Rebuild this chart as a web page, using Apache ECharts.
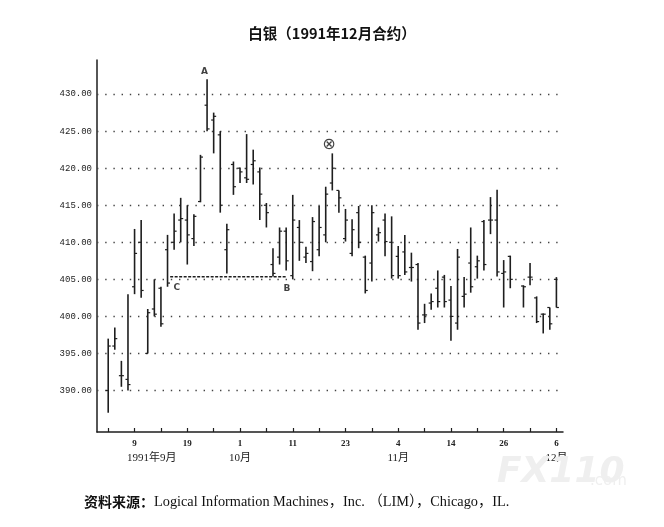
<!DOCTYPE html>
<html><head><meta charset="utf-8">
<script src="https://cdn.jsdelivr.net/npm/echarts@6/dist/echarts.min.js"></script>
<style>html,body{margin:0;padding:0;background:#fff}#c{width:664px;height:527px}</style>
</head><body><div id="c"></div>
<script>
// trading-day slots (slot 62 = Thanksgiving, no trading)
const slots = [];
for (let i = 0; i <= 68; i++) slots.push(i);
const opens  = [390,396,392,391.5,404,410,395,401,403.8,409,410,413,413,410.5,415.5,428.5,426.5,424.5,409,420.5,420,418.7,420.5,419.5,415,407,408,411.5,405.5,412,408,407.4,409,411,418,417,410.5,408.5,414,408,407.2,411,413,410,408.1,408.7,406.6,407,400.2,401.8,403.8,405.3,402.2,399.1,402.7,407.2,406.7,412.8,413,413,405.8,408.1,null,404.1,405.3,402.5,400.3,401.2,405];
const highs  = [397,398.5,394,403,411.8,413,401,405,404,411,413.9,416,415,413.8,421.8,432,427.5,425,412.5,420.9,420.1,424.6,422.5,420.1,415.3,409.2,412,412,416.4,413,409.4,413.4,414.9,417.5,422,417,414.5,413.1,414.9,408.2,415,412,413.9,413.5,409.5,411,408.6,407.2,401.7,403.1,406.2,405.6,404.1,409.1,405.3,412,408.2,413,416.1,417.1,407.6,408.2,null,404.2,407.2,402.7,400.4,401.2,405.3];
const lows   = [387,395.5,390.5,390,403,402.5,395,400,398.6,404,409,410,407,409.5,415.4,425,422,414,405.8,416.4,418,418,417.8,413,412,405.4,407,406.2,405,407.5,407.2,406.1,408.1,410,417,414,410.1,408.1,409.2,403.1,404.7,410.1,408.1,405.1,405.1,405.6,404.7,398.2,399.1,400.9,401.2,401.2,396.7,398.2,401.2,403.2,405.1,406.2,411.1,405.4,401.2,403.8,null,401.2,404.2,399.1,397.7,398.2,401.2];
const closes = [396,397,392,390.8,408.5,403.5,400.5,400.3,399,404.5,411.5,413.2,411,413.5,421.5,425.3,427,415,411.7,417.5,419.5,418.5,421,416.5,414,405.8,411.5,407.5,413,410,408.5,412.8,412,416.5,420,416,413,411.7,410,403.5,414,411.3,410.1,405.5,405.5,406,406.6,399.1,400.2,402,402,402,400,408,403,404,407.5,407,413,406,406,405,null,404,405.3,399.3,400.3,399,401.2];

// axis texts
const yTicks = [390,395,400,405,410,415,420,425,430];
const xTickSlots = [0,4,8,12,16,20,24,28,32,36,40,44,48,52,56,60,64,68];
const dayLabelSlots = [4,12,20,28,36,44,52,60,68];
const dayLabels = ['9','19','1','11','23','4','14','26','6'];
const monthLabels = ['1991年9月','10月','11月','12月'];
const monthSlots = [6.6,20,44,68];

// annotations
const annoNames = ['A','C','B','⊗'];
const annoSlots = [14.6,10.4,27.1,33.5];
const annoValues = [433.0,403.9,403.8,423.2];
const supportLevel = 405.35;
const supportFrom = 9.4, supportTo = 27.1;

const ohlc = [];
slots.forEach((s, i) => {
  if (opens[i] != null) ohlc.push([s, opens[i], highs[i], lows[i], closes[i]]);
});

const chart = echarts.init(document.getElementById('c'));
const INK = '#1e1e1e';
const CJK = '"Noto Sans CJK SC", sans-serif';
const SERIF = '"Liberation Serif", "Noto Sans CJK SC", serif';

chart.setOption({
  animation: false,
  backgroundColor: '#fff',
  title: {
    text: '白银（1991年12月合约）',
    left: 'center', top: 21,
    textStyle: { fontFamily: CJK, fontSize: 14.5, fontWeight: 'bold', color: '#111' }
  },
  grid: { left: 97, right: 101, top: 60, bottom: 95 },
  xAxis: {
    type: 'value', min: -1.7, max: 69,
    axisLine: { show: true, onZero: false, lineStyle: { color: INK, width: 1.5 } },
    axisTick: { show: true, inside: true, length: 4, customValues: xTickSlots, lineStyle: { color: INK, width: 1.2 } },
    axisLabel: {
      customValues: dayLabelSlots,
      formatter: v => dayLabels[dayLabelSlots.indexOf(v)] || '',
      fontFamily: SERIF, fontWeight: 'bold', fontSize: 9, color: '#222', margin: 7
    },
    splitLine: { show: false }
  },
  yAxis: {
    type: 'value', min: 384.4, max: 434.6,
    axisLine: { show: true, onZero: false, lineStyle: { color: INK, width: 1.5 } },
    axisTick: { show: false },
    axisLabel: {
      customValues: yTicks,
      formatter: v => v.toFixed(2),
      fontFamily: '"Liberation Mono", monospace', fontSize: 9, color: '#222', margin: 5
    },
    splitLine: { show: false }
  },
  series: [
    {
      type: 'custom',
      data: ohlc,
      encode: { x: 0, y: [1, 2, 3, 4] },
      renderItem: (params, api) => {
        const x = api.value(0);
        const ph = api.coord([x, api.value(2)]);
        const pl = api.coord([x, api.value(3)]);
        const po = api.coord([x, api.value(1)]);
        const pc = api.coord([x, api.value(4)]);
        const st = { stroke: INK, lineWidth: 1.6 };
        return { type: 'group', children: [
          { type: 'line', shape: { x1: ph[0], y1: ph[1], x2: pl[0], y2: pl[1] }, style: st },
          { type: 'line', shape: { x1: po[0] - 2.5, y1: po[1], x2: po[0], y2: po[1] }, style: { stroke: INK, lineWidth: 1.2 } },
          { type: 'line', shape: { x1: pc[0], y1: pc[1], x2: pc[0] + 2.5, y2: pc[1] }, style: { stroke: INK, lineWidth: 1.2 } }
        ]};
      },
      z: 5
    },
    {
      type: 'line',
      data: [[supportFrom, supportLevel], [supportTo, supportLevel]],
      symbol: 'none',
      lineStyle: { color: INK, width: 1.5, type: [3, 1.5] },
      markLine: {
        silent: true, symbol: ['none', 'none'], label: { show: false },
        lineStyle: { color: '#444', width: 1.4, type: [1.4, 6.8] },
        data: yTicks.map(v => ({ yAxis: v }))
      },
      z: 3
    },
    {
      type: 'scatter',
      symbolSize: 0,
      data: annoNames.map((n, i) => ({
        name: n, value: [annoSlots[i], annoValues[i]],
        label: n === '⊗' ? { fontSize: 16, fontWeight: 'normal' } : {}
      })),
      label: {
        show: true, position: 'inside', color: '#111',
        formatter: p => p.name,
        fontFamily: '"DejaVu Sans", sans-serif', fontSize: 9, fontWeight: 'bold'
      },
      emphasis: { disabled: true }
    }
  ]
});

const monthTexts = monthLabels.map((m, i) => ({
  type: 'text',
  x: chart.convertToPixel({ xAxisIndex: 0 }, monthSlots[i]),
  y: 458,
  style: { text: m, fontFamily: SERIF, fontSize: 11, fill: '#222', align: 'center', verticalAlign: 'middle' }
}));

chart.setOption({
  graphic: monthTexts.concat([
    {
      type: 'text', x: 497, y: 455, z: 0,
      style: { text: 'FX110', fontFamily: '"DejaVu Sans", sans-serif', fontSize: 36, fontWeight: 'bold', fontStyle: 'italic', fill: '#efefef' }
    },
    {
      type: 'text', x: 590, y: 474, z: 0,
      style: { text: '.com', fontFamily: '"DejaVu Sans", sans-serif', fontSize: 15, fill: '#efefef' }
    },
    {
      type: 'text', x: 84, y: 502,
      style: {
        text: '{a|资料来源：}{b|Logical Information Machines，Inc. （LIM），Chicago，IL.}',
        verticalAlign: 'middle',
        rich: {
          a: { fontFamily: CJK, fontWeight: 'bold', fontSize: 14, fill: '#111' },
          b: { fontFamily: SERIF, fontSize: 14.3, fill: '#111' }
        }
      }
    }
  ])
});
</script>
</body></html>
